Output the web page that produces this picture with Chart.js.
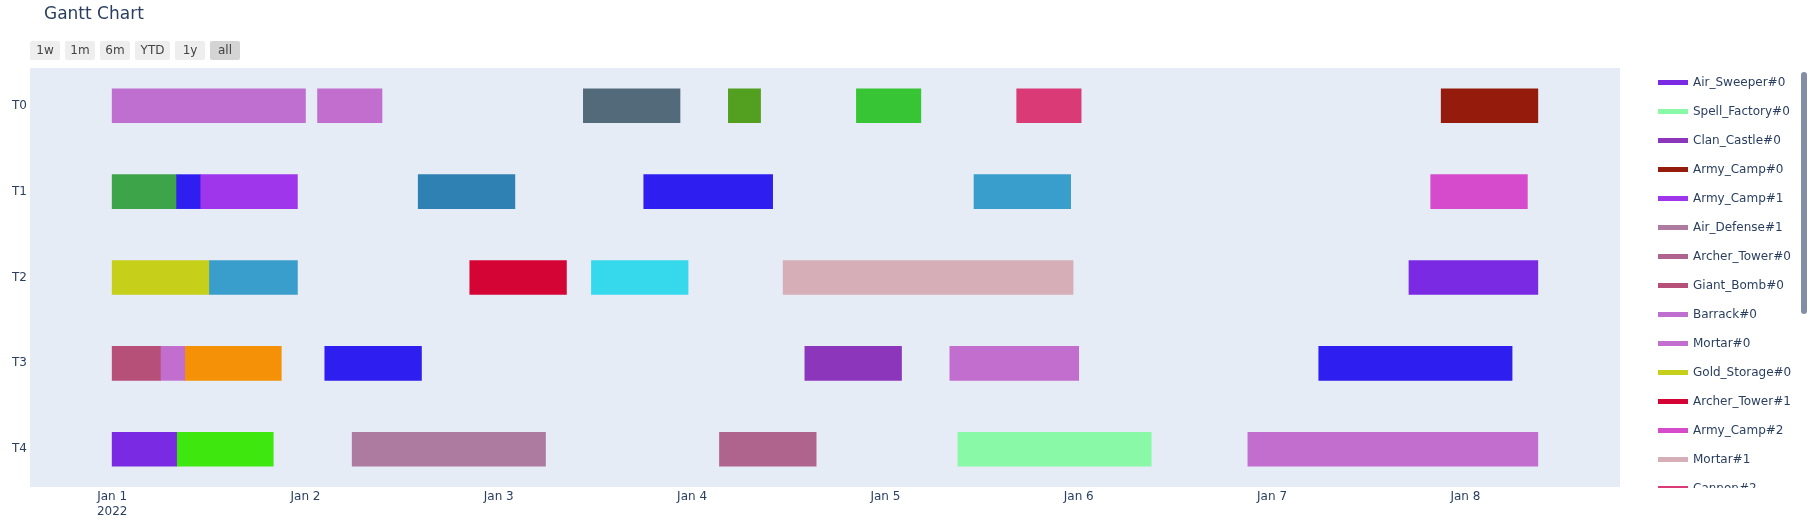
<!DOCTYPE html>
<html>
<head>
<meta charset="utf-8">
<title>Gantt Chart</title>
<script src="https://cdn.jsdelivr.net/npm/chart.js@4.4.1/dist/chart.umd.min.js"></script>
<style>
  body { margin: 0; background: #fff; overflow: hidden; font-family: "DejaVu Sans", Verdana, Arial, sans-serif; }
  #wrap { position: relative; width: 1815px; height: 526px; }
  #titulo { position: absolute; left: 44px; top: 3px; font-size: 17px; line-height: 20px; color: #2a3f5f; }
  .botao { position: absolute; top: 41px; height: 19px; line-height: 19px; background: #eeeeee; border-radius: 2px;
           font-size: 12px; color: #444; text-align: center; }
  .botao.ativo { background: #d4d4d4; }
  #legenda { position: absolute; left: 1650px; top: 68px; width: 148px; height: 420px; overflow: hidden; }
  .item { position: relative; height: 29px; }
  .item span.cor { position: absolute; left: 8px; top: 12px; width: 30px; height: 5px; }
  .item span.nome { position: absolute; left: 43px; top: 0; line-height: 29px; font-size: 12px; color: #2a3f5f; white-space: nowrap; }
  #barra { position: absolute; left: 1801px; top: 72px; width: 6px; height: 242px; background: #838ea6; border-radius: 3px; }
</style>
</head>
<body>
<div id="wrap">
  <canvas id="canvas_grafico"></canvas>
  <div id="titulo">Gantt Chart</div>
  <div id="botoes"></div>
  <div id="legenda"></div>
  <div id="barra"></div>
</div>
<script>
// linhas (workers) e eixo
var linhas = ['T0', 'T1', 'T2', 'T3', 'T4'];
var diasLabels = ['Jan 1', 'Jan 2', 'Jan 3', 'Jan 4', 'Jan 5', 'Jan 6', 'Jan 7', 'Jan 8'];
var anoLabel = '2022';
var botoesLabels = ['1w', '1m', '6m', 'YTD', '1y', 'all'];

// recursos na ordem da legenda
var recursos = ['Air_Sweeper#0', 'Spell_Factory#0', 'Clan_Castle#0', 'Army_Camp#0', 'Army_Camp#1',
    'Air_Defense#1', 'Archer_Tower#0', 'Giant_Bomb#0', 'Barrack#0', 'Mortar#0', 'Gold_Storage#0',
    'Archer_Tower#1', 'Army_Camp#2', 'Mortar#1', 'Cannon#2', 'Wizard_Tower#0', 'Cannon#0',
    'Elixir_Storage#0', 'Cannon#1', 'Elixir_Collector#0', 'Laboratory#0', 'Gold_Mine#0',
    'Elixir_Collector#1', 'Town_Hall#0', 'Bomb#0'];
var cores = ['#7a2ae2', '#8af9a7', '#8c36bb', '#951c0c', '#a036ec',
    '#ad7aa0', '#af648d', '#b75079', '#bf6fcf', '#c26ece', '#c6cf1a',
    '#d40535', '#d64bcc', '#d6aeb7', '#da3b77', '#f49106', '#2f1ef0',
    '#2f81b3', '#36d9ec', '#37c435', '#3a9ecc', '#3ea44a',
    '#3ee80e', '#526a79', '#53a020'];

// tarefas: linha, recurso, inicio e fim (horas desde Jan 1 00:00)
var tarefaLinha = ['T0', 'T0', 'T0', 'T0', 'T0', 'T0', 'T0',
    'T1', 'T1', 'T1', 'T1', 'T1', 'T1', 'T1',
    'T2', 'T2', 'T2', 'T2', 'T2', 'T2',
    'T3', 'T3', 'T3', 'T3', 'T3', 'T3', 'T3',
    'T4', 'T4', 'T4', 'T4', 'T4', 'T4'];
var tarefaRecurso = ['Barrack#0', 'Mortar#0', 'Town_Hall#0', 'Bomb#0', 'Elixir_Collector#0', 'Cannon#2', 'Army_Camp#0',
    'Gold_Mine#0', 'Cannon#0', 'Army_Camp#1', 'Elixir_Storage#0', 'Cannon#0', 'Laboratory#0', 'Army_Camp#2',
    'Gold_Storage#0', 'Laboratory#0', 'Archer_Tower#1', 'Cannon#1', 'Mortar#1', 'Air_Sweeper#0',
    'Giant_Bomb#0', 'Mortar#0', 'Wizard_Tower#0', 'Cannon#0', 'Clan_Castle#0', 'Mortar#0', 'Cannon#0',
    'Air_Sweeper#0', 'Elixir_Collector#1', 'Air_Defense#1', 'Archer_Tower#0', 'Spell_Factory#0', 'Mortar#0'];
var tarefaInicio = [0, 25.5, 58.5, 76.5, 92.4, 112.3, 165,
    0, 8, 11, 38, 66, 107, 163.7,
    0, 12, 44.4, 59.5, 83.3, 161,
    0, 6, 9, 26.4, 86, 104, 149.8,
    0, 8, 29.8, 75.4, 105, 141];
var tarefaFim = [24, 33.5, 70.5, 80.5, 100.4, 120.3, 177,
    8, 11, 23, 50, 82, 119, 175.7,
    12, 23, 56.4, 71.5, 119.3, 177,
    6, 9, 21, 38.4, 98, 120, 173.8,
    8, 20, 53.8, 87.4, 129, 177];

// botoes do range selector
var posBotoes = [30, 65, 100, 135, 175, 210];
var largBotoes = [30, 30, 30, 35, 30, 30];
var botoesDiv = document.getElementById('botoes');
for (var b = 0; b < botoesLabels.length; b++) {
    var el = document.createElement('div');
    el.className = 'botao' + (botoesLabels[b] == 'all' ? ' ativo' : '');
    el.style.left = posBotoes[b] + 'px';
    el.style.width = largBotoes[b] + 'px';
    el.textContent = botoesLabels[b];
    botoesDiv.appendChild(el);
}

var datasets = [];
for (var r = 0; r < recursos.length; r++) {
    var pontos = [];
    for (var i = 0; i < tarefaRecurso.length; i++) {
        if (tarefaRecurso[i] == recursos[r]) {
            pontos.push({ x: [tarefaInicio[i], tarefaFim[i]], y: linhas.indexOf(tarefaLinha[i]) });
        }
    }
    datasets.push({
        label: recursos[r],
        data: pontos,
        backgroundColor: cores[r],
        borderWidth: 0,
        grouped: false,
        barThickness: 34
    });
}

var fundo = {
    id: 'fundo',
    beforeDraw: function (chart) {
        var a = chart.chartArea;
        chart.ctx.save();
        chart.ctx.fillStyle = '#e5ecf6';
        chart.ctx.fillRect(a.left, a.top, a.right - a.left, a.bottom - a.top);
        chart.ctx.restore();
    }
};

var fonte = { family: '"DejaVu Sans", Verdana, Arial, sans-serif', size: 12 };

const ctx = document.getElementById('canvas_grafico').getContext('2d');
const myChart = new Chart(ctx, {
    type: 'bar',
    data: { datasets: datasets },
    plugins: [fundo],
    options: {
        indexAxis: 'y',
        responsive: true,
        maintainAspectRatio: false,
        animation: false,
        layout: { padding: { top: 68, right: 195, bottom: 0, left: 0 } },
        plugins: {
            legend: { display: false },
            title: { display: false },
            tooltip: { enabled: false }
        },
        scales: {
            x: {
                type: 'linear',
                position: 'bottom',
                min: -10.2,
                max: 187.2,
                offset: false,
                grid: { display: false, drawTicks: false },
                border: { display: false },
                ticks: {
                    stepSize: 24,
                    includeBounds: false,
                    autoSkip: false,
                    maxRotation: 0,
                    padding: 3,
                    color: '#2a3f5f',
                    font: fonte,
                    callback: function (v) {
                        var d = Math.round(v / 24);
                        return d == 0 ? [diasLabels[0], anoLabel] : diasLabels[d];
                    }
                },
                afterFit: function (s) { s.height = 39; }
            },
            y: {
                type: 'linear',
                min: -0.44,
                max: 4.44,
                reverse: true,
                offset: false,
                grid: { display: false, drawTicks: false, offset: false },
                border: { display: false },
                ticks: {
                    stepSize: 1,
                    includeBounds: false,
                    padding: 3,
                    color: '#2a3f5f',
                    font: fonte,
                    callback: function (v) { return linhas[v]; }
                },
                afterFit: function (s) { s.width = 30; }
            }
        }
    }
});

// legenda html (com rolagem, como no original)
var legenda = document.getElementById('legenda');
myChart.data.datasets.forEach(function (ds) {
    var item = document.createElement('div');
    item.className = 'item';
    item.innerHTML = '<span class="cor" style="background:' + ds.backgroundColor + '"></span><span class="nome"></span>';
    item.querySelector('.nome').textContent = ds.label;
    legenda.appendChild(item);
});
</script>
</body>
</html>
